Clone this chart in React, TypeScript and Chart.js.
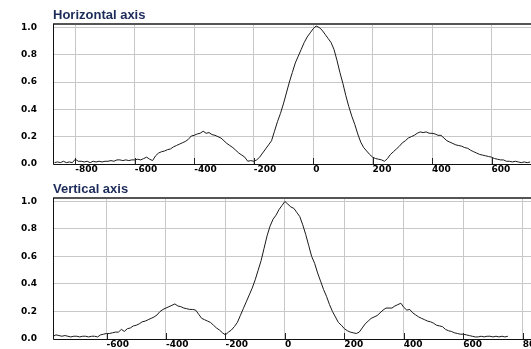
import React, { useEffect, useRef } from "react";
import { Chart, registerables } from "chart.js";
Chart.register(...registerables);

const TOP_TITLE = "Horizontal axis";
const BOTTOM_TITLE = "Vertical axis";

const TOP_X = [
  -870, -860, -850, -840, -830, -820, -810, -800, -790, -780,
  -770, -760, -750, -740, -730, -720, -710, -700, -690, -680,
  -670, -660, -650, -640, -630, -620, -610, -600, -590, -580,
  -570, -560, -550, -540, -530, -520, -510, -500, -490, -480,
  -470, -460, -450, -440, -430, -420, -410, -400, -390, -380,
  -370, -360, -350, -340, -330, -320, -310, -300, -290, -280,
  -270, -260, -250, -240, -230, -220, -210, -200, -190, -180,
  -170, -160, -150, -140, -130, -120, -110, -100, -90, -80,
  -70, -60, -50, -40, -30, -20, -10, 0, 10, 20,
  30, 40, 50, 60, 70, 80, 90, 100, 110, 120,
  130, 140, 150, 160, 170, 180, 190, 200, 210, 220,
  230, 240, 250, 260, 270, 280, 290, 300, 310, 320,
  330, 340, 350, 360, 370, 380, 390, 400, 410, 420,
  430, 440, 450, 460, 470, 480, 490, 500, 510, 520,
  530, 540, 550, 560, 570, 580, 590, 600, 610, 620,
  630, 640, 650, 660, 670, 680, 690, 700, 710, 720, 730,
];
const TOP_Y = [
  0.01, 0.015, 0.01, 0.02, 0.01, 0.015, 0.01, 0.035, 0.02, 0.02,
  0.015, 0.02, 0.01, 0.02, 0.015, 0.02, 0.015, 0.02, 0.02, 0.025,
  0.02, 0.03, 0.03, 0.025, 0.03, 0.025, 0.03, 0.03, 0.035, 0.03,
  0.04, 0.05, 0.035, 0.025, 0.06, 0.08, 0.09, 0.095, 0.105, 0.11,
  0.125, 0.135, 0.145, 0.155, 0.165, 0.18, 0.205, 0.21, 0.22, 0.225,
  0.24, 0.225, 0.23, 0.215, 0.21, 0.2, 0.19, 0.17, 0.15, 0.135,
  0.12, 0.1, 0.08, 0.065, 0.05, 0.02, 0.025, 0.02, 0.03, 0.05,
  0.08, 0.11, 0.14, 0.17, 0.24, 0.31, 0.37, 0.44, 0.52, 0.6,
  0.67, 0.74, 0.79, 0.84, 0.89, 0.93, 0.96, 0.99, 1.01, 1.0,
  0.98, 0.95, 0.92, 0.89, 0.84, 0.76, 0.67, 0.59, 0.5, 0.42,
  0.35, 0.29, 0.22, 0.16, 0.12, 0.095, 0.07, 0.05, 0.04, 0.035,
  0.03, 0.02, 0.04, 0.07, 0.09, 0.11, 0.13, 0.155, 0.17, 0.19,
  0.2, 0.21, 0.225, 0.235, 0.23, 0.235, 0.225, 0.225, 0.22, 0.21,
  0.21, 0.19, 0.17, 0.16, 0.15, 0.14, 0.135, 0.13, 0.12, 0.115,
  0.1, 0.09, 0.08, 0.07, 0.065, 0.06, 0.055, 0.05, 0.04, 0.035,
  0.03, 0.03, 0.02, 0.02, 0.015, 0.02, 0.015, 0.01, 0.015, 0.01, 0.015,
];

const BOTTOM_X = [
  -780, -770, -760, -750, -740, -730, -720, -710, -700, -690,
  -680, -670, -660, -650, -640, -630, -620, -610, -600, -590,
  -580, -570, -560, -550, -540, -530, -520, -510, -500, -490,
  -480, -470, -460, -450, -440, -430, -420, -410, -400, -390,
  -380, -370, -360, -350, -340, -330, -320, -310, -300, -290,
  -280, -270, -260, -250, -240, -230, -220, -210, -200, -190,
  -180, -170, -160, -150, -140, -130, -120, -110, -100, -90,
  -80, -70, -60, -50, -40, -30, -20, -10, 0, 10,
  20, 30, 40, 50, 60, 70, 80, 90, 100, 110,
  120, 130, 140, 150, 160, 170, 180, 190, 200, 210,
  220, 230, 240, 250, 260, 270, 280, 290, 300, 310,
  320, 330, 340, 350, 360, 370, 380, 390, 400, 410,
  420, 430, 440, 450, 460, 470, 480, 490, 500, 510,
  520, 530, 540, 550, 560, 570, 580, 590, 600, 610,
  620, 630, 640, 650, 660, 670, 680, 690, 700, 710,
  720, 730, 740, 750,
];
const BOTTOM_Y = [
  0.02, 0.03, 0.025, 0.02, 0.025, 0.02, 0.015, 0.02, 0.02, 0.015,
  0.02, 0.02, 0.015, 0.02, 0.02, 0.015, 0.03, 0.035, 0.04, 0.04,
  0.045, 0.05, 0.05, 0.07, 0.055, 0.075, 0.08, 0.095, 0.1, 0.11,
  0.125, 0.13, 0.14, 0.15, 0.16, 0.175, 0.2, 0.215, 0.225, 0.235,
  0.245, 0.255, 0.24, 0.235, 0.225, 0.22, 0.215, 0.215, 0.21, 0.18,
  0.15, 0.14, 0.13, 0.12, 0.1, 0.08, 0.065, 0.045, 0.03, 0.05,
  0.065, 0.09, 0.12, 0.17, 0.22, 0.27, 0.32, 0.37, 0.43, 0.5,
  0.57, 0.66, 0.75, 0.82, 0.87, 0.9, 0.94, 0.97, 1.0, 0.98,
  0.96, 0.95, 0.92, 0.89, 0.83, 0.76, 0.68, 0.6, 0.55, 0.48,
  0.42, 0.36, 0.31, 0.25, 0.2, 0.16, 0.12, 0.1, 0.075, 0.06,
  0.05, 0.045, 0.04, 0.05, 0.08, 0.11, 0.13, 0.15, 0.16, 0.17,
  0.19, 0.21, 0.225, 0.225, 0.225, 0.24, 0.25, 0.26, 0.23, 0.21,
  0.215, 0.19, 0.175, 0.16, 0.15, 0.14, 0.13, 0.125, 0.115, 0.1,
  0.095, 0.09, 0.07, 0.06, 0.055, 0.045, 0.04, 0.035, 0.035, 0.03,
  0.025, 0.02, 0.015, 0.015, 0.02, 0.015, 0.02, 0.02, 0.015, 0.02,
  0.015, 0.02, 0.015, 0.02,
];

const TOP_X_RANGE = [-875, 800];
const BOTTOM_X_RANGE = [-780, 895];
const Y_RANGE = [0, 1.025];
const X_STEP = 200;
const Y_STEP = 0.2;

const TICK_FONT = { family: "'DejaVu Sans', Verdana, sans-serif", size: 9, weight: "bold" as const };

const framePlugin = {
  id: "frame",
  afterDatasetsDraw(chart: any) {
    const { ctx, chartArea: a, scales } = chart;
    ctx.save();
    ctx.strokeStyle = "#222";
    ctx.lineWidth = 1;
    scales.x.ticks.forEach((t: any) => {
      const px = Math.round(scales.x.getPixelForValue(t.value)) + 0.5;
      ctx.beginPath();
      ctx.moveTo(px, a.bottom);
      ctx.lineTo(px, a.bottom - 6);
      ctx.stroke();
    });
    ctx.strokeStyle = "#555";
    ctx.lineWidth = 2;
    ctx.beginPath();
    ctx.moveTo(a.left, a.top);
    ctx.lineTo(a.right, a.top);
    ctx.stroke();
    ctx.strokeStyle = "#111";
    ctx.lineWidth = 1;
    ctx.beginPath();
    ctx.moveTo(a.left + 0.5, a.top);
    ctx.lineTo(a.left + 0.5, a.bottom + 0.5);
    ctx.lineTo(a.right, a.bottom + 0.5);
    ctx.stroke();
    ctx.restore();
  },
};

function makeConfig(xs: number[], ys: number[], range: number[], padTop: number, xHeight: number) {
  return {
    type: "line" as const,
    data: {
      datasets: [
        {
          data: xs.map((x, i) => ({ x, y: ys[i] })),
          borderColor: "#1a1a1a",
          borderWidth: 1,
          pointRadius: 0,
          tension: 0,
        },
      ],
    },
    options: {
      animation: false as const,
      responsive: false,
      devicePixelRatio: 1,
      layout: { padding: { top: padTop, right: 9, left: 0, bottom: 0 } },
      plugins: { legend: { display: false }, tooltip: { enabled: false }, title: { display: false } },
      scales: {
        x: {
          type: "linear" as const,
          min: range[0],
          max: range[1],
          afterFit: (s: any) => {
            s.height = xHeight;
            s.paddingLeft = 0;
            s.paddingRight = 0;
          },
          ticks: {
            stepSize: X_STEP,
            includeBounds: false,
            align: "start" as const,
            padding: 0,
            autoSkip: false,
            maxRotation: 0,
            font: TICK_FONT,
            color: "#000",
          },
          grid: { color: "#c8c8c8", lineWidth: 1, drawTicks: false },
          border: { display: false },
        },
        y: {
          min: Y_RANGE[0],
          max: Y_RANGE[1],
          afterFit: (s: any) => {
            s.width = 53;
            s.paddingTop = 0;
            s.paddingBottom = 0;
          },
          ticks: {
            stepSize: Y_STEP,
            includeBounds: false,
            padding: 16,
            font: TICK_FONT,
            color: "#000",
            callback: (v: any) => Number(v).toFixed(1),
          },
          grid: { color: "#c8c8c8", lineWidth: 1, drawTicks: false },
          border: { display: false },
        },
      },
    },
    plugins: [framePlugin],
  };
}

function Panel(props: { xs: number[]; ys: number[]; range: number[]; title: string; top: number; height: number; padTop: number; xHeight: number; titleTop: number }) {
  const ref = useRef<HTMLCanvasElement>(null);
  useEffect(() => {
    const chart = new Chart(ref.current as HTMLCanvasElement, makeConfig(props.xs, props.ys, props.range, props.padTop, props.xHeight) as any);
    return () => chart.destroy();
  }, []);
  return (
    <>
      <canvas
        ref={ref}
        width={560}
        height={props.height}
        style={{ position: "absolute", left: 0, top: props.top, width: 560, height: props.height }}
      />
      <div
        style={{
          position: "absolute",
          left: 53,
          top: props.titleTop,
          height: 16,
          lineHeight: "16px",
          fontFamily: "'Liberation Sans', Arial, sans-serif",
          fontSize: 13,
          fontWeight: "bold",
          color: "#1c2b5a",
          whiteSpace: "nowrap",
        }}
      >
        {props.title}
      </div>
    </>
  );
}

export default function App() {
  return (
    <div style={{ position: "fixed", left: 0, top: 0, width: 531, height: 349, overflow: "hidden", background: "#fff" }}>
      <Panel xs={TOP_X} ys={TOP_Y} range={TOP_X_RANGE} title={TOP_TITLE} top={0} height={175} padTop={24} xHeight={11} titleTop={7} />
      <Panel xs={BOTTOM_X} ys={BOTTOM_Y} range={BOTTOM_X_RANGE} title={BOTTOM_TITLE} top={175} height={174} padTop={23} xHeight={10} titleTop={181} />
    </div>
  );
}
